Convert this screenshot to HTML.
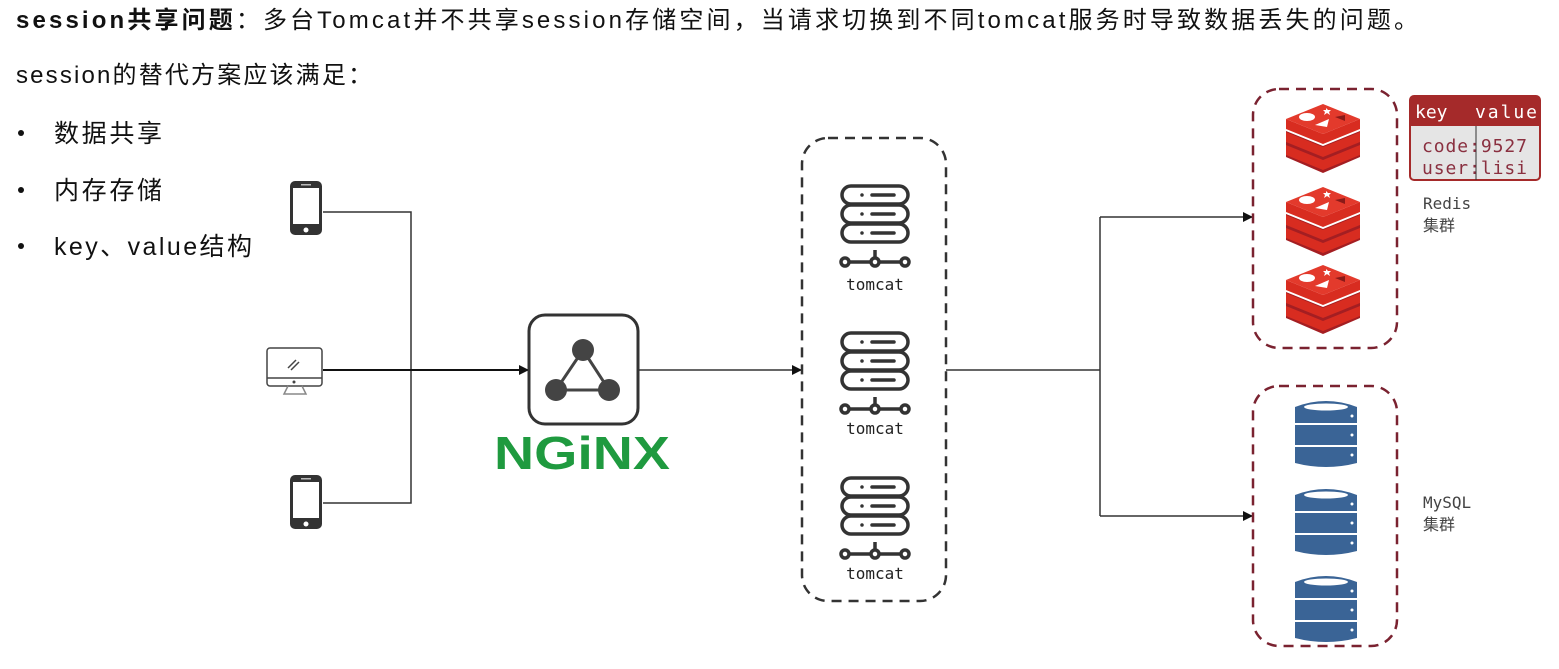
<!DOCTYPE html>
<html><head><meta charset="utf-8"><style>
body{margin:0;background:#fff;width:1559px;height:669px;overflow:hidden}
svg{display:block}
.cn{font-family:"Liberation Sans","Noto Sans CJK SC",sans-serif}
.mono{font-family:"DejaVu Sans Mono","Liberation Mono",monospace}
</style></head><body>
<svg width="1559" height="669" viewBox="0 0 1559 669" xmlns="http://www.w3.org/2000/svg">
<defs>
<marker id="ar" markerWidth="10" markerHeight="10" refX="9" refY="5" orient="auto" markerUnits="userSpaceOnUse"><path d="M0,0 L10,5 L0,10 z" fill="#111"/></marker>
<g id="phone"><rect x="0" y="0" width="32" height="54" rx="5" fill="#333"/><rect x="3" y="7" width="26" height="36" fill="#fff"/><rect x="11" y="3" width="10" height="1.5" fill="#bbb"/><circle cx="16" cy="49" r="2.5" fill="#fff"/></g>
<g id="srv" fill="none" stroke="#333" stroke-width="3.5">
<rect x="-33" y="0" width="66" height="18" rx="9"/><rect x="-33" y="19" width="66" height="18" rx="9"/><rect x="-33" y="38" width="66" height="18" rx="9"/>
<path d="M-13 9h0M-3 9h22M-13 28h0M-3 28h22M-13 47h0M-3 47h22" stroke-linecap="round"/>
<path d="M-26 76H26M0 64v12"/><circle cx="-30" cy="76" r="4" fill="#fff"/><circle cx="0" cy="76" r="4" fill="#fff"/><circle cx="30" cy="76" r="4" fill="#fff"/>
</g>
<g id="redis">
<path d="M-37 22 L0 37 L37 22 L37 48 L0 64 L-37 48 Z" fill="#a41e22"/>
<path d="M-37 36 L0 51 L37 36 L37 46 L0 61 L-37 46 Z" fill="#d82c20"/>
<path d="M-37 23 L0 38 L37 23 L37 33 L0 48 L-37 33 Z" fill="#d82c20"/>
<path d="M-37 10 L0 25 L37 10 L37 20 L0 35 L-37 20 Z" fill="#d82c20"/>
<path d="M-37 10 L0 -5 L37 10 L0 25 Z" fill="#e33a2c"/>
<ellipse cx="-16" cy="8" rx="8" ry="4" fill="#fff"/><path d="M-8 16 L6 10 L4 18Z" fill="#fff"/><path d="M3 -1l2 2h3l-2 2 1 3-3-2-3 2 1-3-2-2h3z" fill="#fff"/><path d="M12 8 L22 6 L22 12Z" fill="#8a1a18"/>
</g>
<g id="db" fill="#3a6496">
<path d="M-31 8 Q0 -4 31 8 V24 H-31Z"/><ellipse cx="0" cy="8" rx="22" ry="3.5" fill="#fff"/>
<rect x="-31" y="26" width="62" height="20"/><path d="M-31 48 H31 V64 Q0 72 -31 64Z"/>
<g fill="#fff"><circle cx="26" cy="17" r="1.5"/><circle cx="26" cy="36" r="1.5"/><circle cx="26" cy="56" r="1.5"/></g>
</g>
</defs>

<text x="16" y="28" class="cn" font-size="24" fill="#111" textLength="1402" lengthAdjust="spacing"><tspan font-weight="bold">session共享问题</tspan>：多台Tomcat并不共享session存储空间，当请求切换到不同tomcat服务时导致数据丢失的问题。</text>
<text x="16" y="83" class="cn" font-size="24" fill="#111" textLength="356" lengthAdjust="spacing">session的替代方案应该满足：</text>
<g class="cn" font-size="25" fill="#111">
<circle cx="21" cy="133" r="3"/><text x="54" y="142" textLength="108" lengthAdjust="spacing">数据共享</text>
<circle cx="21" cy="190" r="3"/><text x="54" y="199" textLength="108" lengthAdjust="spacing">内存存储</text>
<circle cx="21" cy="246" r="3"/><text x="54" y="255" textLength="198" lengthAdjust="spacing">key、value结构</text>
</g>

<use href="#phone" x="290" y="181"/>
<use href="#phone" x="290" y="475"/>
<g>
<rect x="267" y="348" width="55" height="38" rx="3" fill="#fff" stroke="#444" stroke-width="1.5"/>
<line x1="267" y1="378" x2="322" y2="378" stroke="#444" stroke-width="1.5"/>
<circle cx="294" cy="382" r="1.5" fill="#444"/>
<path d="M288 368 l8 -8 M291 370 l8 -8" stroke="#444" stroke-width="1.5"/>
<path d="M288 386 l-4 8 h22 l-4 -8" fill="none" stroke="#888" stroke-width="1.5"/>
</g>
<g fill="none" stroke="#333" stroke-width="1.5">
<path d="M323 212 H411 V503 H323"/>
</g>
<line x1="323" y1="370" x2="528" y2="370" stroke="#111" stroke-width="2" marker-end="url(#ar)"/>

<rect x="529" y="315" width="109" height="109" rx="16" fill="#fff" stroke="#333" stroke-width="3"/>
<path d="M583 350 L556 390 L609 390 Z" fill="none" stroke="#444" stroke-width="3"/>
<circle cx="583" cy="350" r="11" fill="#444"/><circle cx="556" cy="390" r="11" fill="#444"/><circle cx="609" cy="390" r="11" fill="#444"/>
<text x="494" y="469" font-family="Liberation Sans,sans-serif" font-weight="bold" font-size="46" fill="#1f9a3f" textLength="176" lengthAdjust="spacingAndGlyphs">NGiNX</text>
<line x1="638" y1="370" x2="801" y2="370" stroke="#333" stroke-width="1.5" marker-end="url(#ar)"/>

<rect x="802" y="138" width="144" height="463" rx="26" fill="none" stroke="#333" stroke-width="2.5" stroke-dasharray="10 7"/>
<use href="#srv" x="875" y="186"/>
<use href="#srv" x="875" y="333"/>
<use href="#srv" x="875" y="478"/>
<g class="mono" font-size="16" fill="#222" text-anchor="middle">
<text x="875" y="290">tomcat</text><text x="875" y="434">tomcat</text><text x="875" y="579">tomcat</text>
</g>

<g fill="none" stroke="#333" stroke-width="1.5">
<path d="M946 370 H1100"/><path d="M1100 217 V516"/>
</g>
<line x1="1100" y1="217" x2="1252" y2="217" stroke="#333" stroke-width="1.5" marker-end="url(#ar)"/>
<line x1="1100" y1="516" x2="1252" y2="516" stroke="#333" stroke-width="1.5" marker-end="url(#ar)"/>

<rect x="1253" y="89" width="144" height="259" rx="26" fill="none" stroke="#7a2230" stroke-width="2.5" stroke-dasharray="10 7"/>
<use href="#redis" x="1323" y="109"/>
<use href="#redis" x="1323" y="192"/>
<use href="#redis" x="1323" y="270"/>

<rect x="1410" y="96" width="130" height="84" rx="4" fill="#e5e5e5" stroke="#a52a2a" stroke-width="2"/>
<path d="M1410 126 V100 a4 4 0 0 1 4 -4 H1536 a4 4 0 0 1 4 4 V126 Z" fill="#a52a2a"/>
<line x1="1476" y1="126" x2="1476" y2="180" stroke="#333" stroke-width="1"/>
<g class="mono" font-size="18">
<text x="1415" y="118" fill="#fff">key</text><text x="1475" y="118" fill="#fff" textLength="62">value</text>
<text x="1422" y="152" fill="#8a3040" textLength="105">code:9527</text>
<text x="1422" y="174" fill="#8a3040" textLength="105">user:lisi</text>
</g>
<text x="1423" y="209" class="mono" font-size="16" fill="#444">Redis</text>
<text x="1423" y="231" class="cn" font-size="16" fill="#444">集群</text>

<rect x="1253" y="386" width="144" height="260" rx="26" fill="none" stroke="#7a2230" stroke-width="2.5" stroke-dasharray="10 7"/>
<use href="#db" x="1326" y="399"/>
<use href="#db" x="1326" y="487"/>
<use href="#db" x="1326" y="574"/>
<text x="1423" y="508" class="mono" font-size="16" fill="#444">MySQL</text>
<text x="1423" y="530" class="cn" font-size="16" fill="#444">集群</text>
</svg>
</body></html>
